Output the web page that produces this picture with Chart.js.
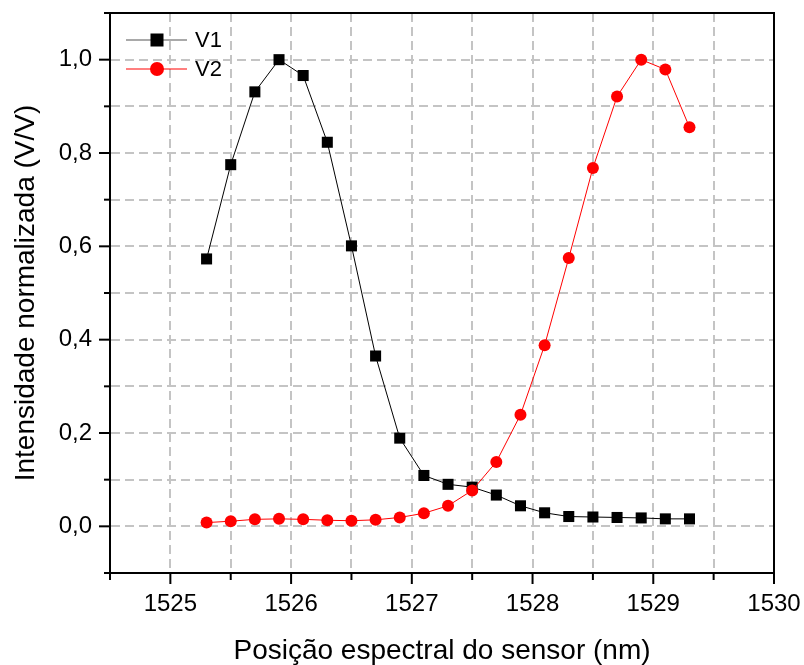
<!DOCTYPE html>
<html>
<head>
<meta charset="utf-8">
<script src="https://cdn.jsdelivr.net/npm/chart.js@4"></script>
<style>
  html, body { margin: 0; padding: 0; background: #fff; }
  #wrap { width: 804px; height: 665px; }
</style>
</head>
<body>
<div id="wrap"><canvas id="espectro"></canvas></div>
<script>
var posicao = [1525.3, 1525.5, 1525.7, 1525.9, 1526.1, 1526.3, 1526.5, 1526.7, 1526.9, 1527.1, 1527.3,
               1527.5, 1527.7, 1527.9, 1528.1, 1528.3, 1528.5, 1528.7, 1528.9, 1529.1, 1529.3];
var v1 = [0.573, 0.775, 0.931, 1.0, 0.966, 0.823, 0.601, 0.365, 0.189, 0.109, 0.090,
          0.084, 0.067, 0.044, 0.029, 0.021, 0.020, 0.019, 0.018, 0.016, 0.016];
var v2 = [0.008, 0.011, 0.015, 0.016, 0.015, 0.013, 0.012, 0.014, 0.019, 0.028, 0.044,
          0.077, 0.138, 0.239, 0.388, 0.575, 0.768, 0.921, 1.0, 0.979, 0.855];
var xTicks = [1525, 1526, 1527, 1528, 1529, 1530];
var yTicks = [0.0, 0.2, 0.4, 0.6, 0.8, 1.0];

var fonte = 'Arial, "Liberation Sans", sans-serif';

function pontos(ys){
    return posicao.map(function(x, i){ return {x: x, y: ys[i]}; });
}

// moldura, marcas dos eixos e legenda
var extras = {
    id: 'extras',
    afterDraw: function(chart){
        var ctx = chart.ctx, a = chart.chartArea;
        var sx = chart.scales.x, sy = chart.scales.y;
        ctx.save();
        ctx.strokeStyle = '#000';
        ctx.lineWidth = 2;
        ctx.strokeRect(a.left, a.top, a.right - a.left, a.bottom - a.top);

        sx.ticks.forEach(function(t){
            var px = sx.getPixelForValue(t.value);
            var major = Math.abs(t.value - Math.round(t.value)) < 1e-6;
            ctx.beginPath();
            ctx.moveTo(px, a.bottom);
            ctx.lineTo(px, a.bottom + (major ? 11 : 7));
            ctx.stroke();
        });
        sy.ticks.forEach(function(t){
            var py = sy.getPixelForValue(t.value);
            var v = Math.round(t.value * 10);
            var major = v % 2 === 0;
            ctx.beginPath();
            ctx.moveTo(a.left, py);
            ctx.lineTo(a.left - (major ? 11 : 6), py);
            ctx.stroke();
        });

        // legenda
        var itens = [
            {txt: 'V1', cor: '#000', linha: '#555', forma: 'rect'},
            {txt: 'V2', cor: 'red', linha: 'red', forma: 'circle'}
        ];
        itens.forEach(function(it, i){
            var y = a.top + 27 + i * 29;
            var x0 = a.left + 16;
            ctx.strokeStyle = it.linha;
            ctx.lineWidth = 1.2;
            ctx.beginPath();
            ctx.moveTo(x0, y);
            ctx.lineTo(x0 + 61, y);
            ctx.stroke();
            ctx.fillStyle = it.cor;
            if (it.forma === 'rect') {
                ctx.fillRect(x0 + 31 - 6.5, y - 6.5, 13, 13);
            } else {
                ctx.beginPath();
                ctx.arc(x0 + 31, y, 7, 0, Math.PI * 2);
                ctx.fill();
            }
            ctx.fillStyle = '#000';
            ctx.font = '22px ' + fonte;
            ctx.textBaseline = 'middle';
            ctx.textAlign = 'left';
            ctx.fillText(it.txt, x0 + 69, y + 1);
        });
        ctx.restore();
    }
};

var ctxE = document.getElementById('espectro').getContext('2d');
new Chart(ctxE, {
    type: 'line',
    data: {
        datasets: [{
            label: 'V1',
            data: pontos(v1),
            borderColor: '#000',
            backgroundColor: '#000',
            borderWidth: 1,
            pointStyle: 'rect',
            pointRadius: 7.8,
            pointBorderWidth: 0,
            tension: 0,
            order: 1
        },
        {
            label: 'V2',
            data: pontos(v2),
            borderColor: 'red',
            backgroundColor: 'red',
            borderWidth: 1,
            pointStyle: 'circle',
            pointRadius: 6,
            pointBorderWidth: 0,
            tension: 0,
            order: 0
        }]
    },
    options: {
        responsive: true,
        maintainAspectRatio: false,
        animation: false,
        layout: { padding: { top: 13, right: 30, left: 0, bottom: 0 } },
        plugins: {
            legend: { display: false },
            tooltip: { enabled: false }
        },
        scales: {
            x: {
                type: 'linear',
                min: 1524.5,
                max: 1530,
                afterFit: function(s){ s.height = 92; s.paddingLeft = 0; s.paddingRight = 0; },
                ticks: {
                    stepSize: 0.5,
                    autoSkip: false,
                    maxRotation: 0,
                    padding: 17,
                    color: '#000',
                    font: { family: fonte, size: 24 },
                    callback: function(v){
                        return xTicks.indexOf(Math.round(v * 2) / 2) >= 0 ? String(v) : '';
                    }
                },
                grid: {
                    drawTicks: false,
                    color: '#c4c4c4',
                    lineWidth: 2
                },
                border: { display: true, color: '#000', width: 2, dash: [9, 5] },
                title: {
                    display: true,
                    text: 'Posição espectral do sensor (nm)',
                    color: '#000',
                    font: { family: fonte, size: 28, lineHeight: 1 },
                    padding: { top: 0, bottom: 0 }
                }
            },
            y: {
                min: -0.1,
                max: 1.1,
                afterFit: function(s){ s.width = 110; s.paddingTop = 0; s.paddingBottom = 0; },
                ticks: {
                    stepSize: 0.1,
                    autoSkip: false,
                    padding: 18,
                    color: '#000',
                    font: { family: fonte, size: 24 },
                    callback: function(v){
                        var r = Math.round(v * 10) / 10;
                        var i = yTicks.findIndex(function(t){ return Math.abs(t - r) < 1e-6; });
                        return i >= 0 ? yTicks[i].toFixed(1).replace('.', ',') : '';
                    }
                },
                grid: {
                    drawTicks: false,
                    color: '#c4c4c4',
                    lineWidth: 2
                },
                border: { display: true, color: '#000', width: 2, dash: [9, 5] },
                title: {
                    display: true,
                    text: 'Intensidade normalizada (V/V)',
                    color: '#000',
                    font: { family: fonte, size: 28, lineHeight: 1 },
                    padding: { top: 12, bottom: 0 }
                }
            }
        }
    },
    plugins: [extras]
});
</script>
</body>
</html>
